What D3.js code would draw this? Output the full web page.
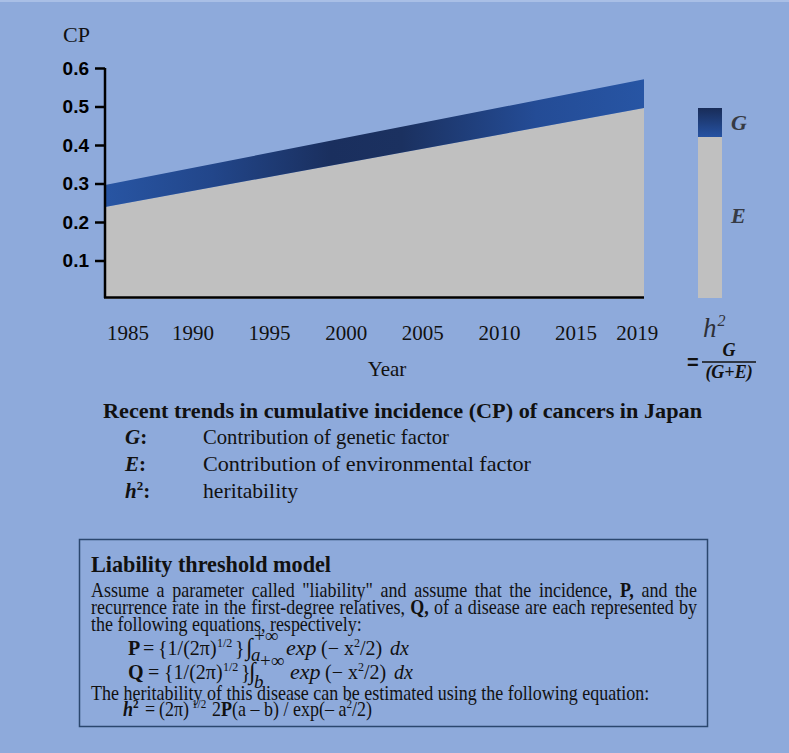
<!doctype html>
<html>
<head>
<meta charset="utf-8">
<title>Recent trends in cumulative incidence (CP) of cancers in Japan</title>
<style>
body { margin:0; background:#8eaadb; }
svg { display:block; }
text { fill:#111; font-family:"Liberation Serif","Times New Roman",serif; }
.ytick text { font-family:"Liberation Sans",Arial,sans-serif; font-weight:bold; font-size:19px; fill:#000; }
</style>
</head>
<body>
<svg width="789" height="753" id="chart"></svg>
<script src="https://d3js.org/d3.v7.min.js"></script>
<script>
// values
var years = [1985, 2019];
var cpTotal = [0.296, 0.571];   // G + E (top of blue band)
var cpEnv = [0.239, 0.496];     // E only (top of grey area)
var yTicks = [0.1, 0.2, 0.3, 0.4, 0.5, 0.6];
var yearLabels = [1985, 1990, 1995, 2000, 2005, 2010, 2015, 2019];

var rows = years.map(function(yr, i) { return {year: yr, total: cpTotal[i], env: cpEnv[i]}; });

var svg = d3.select("#chart");
svg.append("rect").attr("width", 789).attr("height", 753).attr("fill", "#8eaadb");
svg.append("rect").attr("width", 789).attr("height", 2).attr("fill", "#a9bfe6");

var x = d3.scaleLinear().domain([1985, 2019]).range([105, 644]);
var y = d3.scaleLinear().domain([0, 0.6]).range([299, 68]);
// year labels are laid out a bit apart from the data scale
var xLab = d3.scaleLinear().domain([1990, 2015]).range([193, 576]);

var defs = svg.append("defs");
var band = defs.append("linearGradient").attr("id", "band")
    .attr("gradientUnits", "userSpaceOnUse")
    .attr("x1", x(1985)).attr("x2", x(2019)).attr("y1", 0).attr("y2", 0);
[[0, "#2855a3"], [0.2, "#22468a"], [0.42, "#1a2f5e"], [0.55, "#1b3160"], [0.8, "#244c96"], [1, "#2755a4"]]
  .forEach(function(s) { band.append("stop").attr("offset", s[0]).attr("stop-color", s[1]); });
var lg = defs.append("linearGradient").attr("id", "legG").attr("x1", 0).attr("x2", 0).attr("y1", 0).attr("y2", 1);
lg.append("stop").attr("offset", 0).attr("stop-color", "#182c58");
lg.append("stop").attr("offset", 1).attr("stop-color", "#2652a2");

var envArea = d3.area().x(function(d) { return x(d.year); })
    .y0(y(0)).y1(function(d) { return y(d.env); });
var gArea = d3.area().x(function(d) { return x(d.year); })
    .y0(function(d) { return y(d.env); }).y1(function(d) { return y(d.total); });

svg.append("path").datum(rows).attr("d", envArea).attr("fill", "#c0c0c0");
svg.append("path").datum(rows).attr("d", gArea).attr("fill", "url(#band)");

// y axis
var yAxis = svg.append("g").attr("class", "ytick").attr("transform", "translate(" + x(1985) + ",0)")
    .call(d3.axisLeft(y).tickValues(yTicks).tickSize(10).tickSizeOuter(0).tickPadding(6).tickFormat(d3.format(".1f")));
yAxis.select(".domain").attr("stroke", "#000").attr("stroke-width", 2.5).attr("d", "M0," + y(0.6) + "V" + (y(0) - 1));
yAxis.selectAll(".tick line").attr("stroke", "#000").attr("stroke-width", 2.5);

// x baseline
svg.append("line").attr("x1", x(1985) - 1).attr("x2", x(2019)).attr("y1", y(0) - 1.5).attr("y2", y(0) - 1.5)
    .attr("stroke", "#000").attr("stroke-width", 2.5);

// year labels
svg.append("g").selectAll("text").data(yearLabels).join("text")
    .attr("x", function(d) { return d === 1985 ? x(d) + 2 : xLab(d); })
    .attr("y", 340)
    .attr("text-anchor", function(d) { return d === 1985 ? "start" : "middle"; })
    .style("font-size", "21px")
    .text(function(d) { return d; });

svg.append("text").attr("x", 387).attr("y", 376).attr("text-anchor", "middle").style("font-size", "21px").text("Year");
svg.append("text").attr("x", 63).attr("y", 42).style("font-size", "22px").text("CP");

// h2 legend bar
svg.append("rect").attr("x", 698).attr("y", 108).attr("width", 24).attr("height", 29).attr("fill", "url(#legG)");
svg.append("rect").attr("x", 698).attr("y", 137).attr("width", 24).attr("height", 161).attr("fill", "#c0c0c0");
svg.append("text").attr("x", 731).attr("y", 130).style("font-size", "22px").style("font-weight", "bold")
    .style("font-style", "italic").style("fill", "#363a44").text("G");
svg.append("text").attr("x", 731).attr("y", 223).style("font-size", "22px").style("font-weight", "bold")
    .style("font-style", "italic").style("fill", "#363a44").text("E");

var h2 = svg.append("text").attr("x", 703).attr("y", 337).style("font-style", "italic").style("fill", "#2e3038");
h2.append("tspan").style("font-size", "27px").text("h");
h2.append("tspan").style("font-size", "16px").attr("dy", -11).attr("dx", 1).text("2");
svg.append("text").attr("x", 687).attr("y", 369).style("font-family", "'Liberation Sans',Arial,sans-serif")
    .style("font-size", "20px").style("font-weight", "bold").text("=");
svg.append("line").attr("x1", 702).attr("x2", 756).attr("y1", 362).attr("y2", 362).attr("stroke", "#111").attr("stroke-width", 1.5);
svg.append("text").attr("x", 729).attr("y", 356).attr("text-anchor", "middle").style("font-size", "18px")
    .style("font-weight", "bold").style("font-style", "italic").text("G");
svg.append("text").attr("x", 729).attr("y", 378).attr("text-anchor", "middle").style("font-size", "18px")
    .style("font-weight", "bold").style("font-style", "italic").text("(G+E)");

// caption block
svg.append("text").attr("x", 103).attr("y", 418).style("font-size", "21px").style("font-weight", "bold")
    .attr("textLength", 599).attr("lengthAdjust", "spacingAndGlyphs")
    .text("Recent trends in cumulative incidence (CP) of cancers in Japan");
var keys = [
  {k: "G", d: "Contribution of genetic factor", w: 246, y: 444},
  {k: "E", d: "Contribution of environmental factor", w: 328, y: 471},
  {k: "h", d: "heritability", w: 95, y: 498}
];
keys.forEach(function(r) {
  var t = svg.append("text").attr("x", 125).attr("y", r.y).style("font-size", "21px").style("font-weight", "bold");
  t.append("tspan").style("font-style", "italic").text(r.k);
  if (r.k === "h") t.append("tspan").style("font-size", "13px").attr("dy", -8).text("2");
  t.append("tspan").attr("dy", r.k === "h" ? 8 : 0).text(":");
  svg.append("text").attr("x", 203).attr("y", r.y).style("font-size", "21px")
      .attr("textLength", r.w).attr("lengthAdjust", "spacingAndGlyphs").text(r.d);
});

// liability threshold model box
svg.append("rect").attr("x", 79.5).attr("y", 539.5).attr("width", 628).attr("height", 187)
    .attr("fill", "none").attr("stroke", "#2b476e").attr("stroke-width", 1.5);
svg.append("text").attr("x", 91).attr("y", 572).style("font-size", "24px").style("font-weight", "bold")
    .attr("textLength", 240).attr("lengthAdjust", "spacingAndGlyphs").text("Liability threshold model");

var FS = 21;
var probe = svg.append("text").style("font-size", FS + "px").text("the following equations, respectively:");
var sx = 271 / probe.node().getComputedTextLength();
probe.remove();
// prose is horizontally condensed like the original; P and Q equations are not
var body = svg.append("g").attr("transform", "translate(91,0) scale(" + sx + ",1)");
var eq = svg.append("g");
function u(X) { return (X - 91) / sx; }

// pieces laid out left to right; "at" pins a piece to a page x position
function flow(g, k, yy, pieces, fs) {
  var cx = 0;
  pieces.forEach(function(p) {
    if (p.at !== undefined) cx = k ? u(p.at) : p.at;
    var t = g.append("text").attr("x", cx).attr("y", yy + (p.dy || 0))
        .style("font-size", (p.size || fs) + "px")
        .style("font-weight", p.b ? "bold" : "normal")
        .style("font-style", p.i ? "italic" : "normal")
        .text(p.t);
    cx += t.node().getComputedTextLength();
  });
}

function justify(words, yy, X0, X1) {
  var nodes = words.map(function(w) {
    return body.append("text").attr("y", yy).style("font-size", FS + "px")
        .style("font-weight", w.b ? "bold" : "normal").text(w.t);
  });
  var widths = nodes.map(function(n) { return n.node().getComputedTextLength(); });
  var gap = (u(X1) - u(X0) - d3.sum(widths)) / (nodes.length - 1);
  var cx = u(X0);
  nodes.forEach(function(n, i) { n.attr("x", cx); cx += widths[i] + gap; });
}
function words(str, boldWord) {
  return str.split(" ").map(function(w) { return {t: w, b: w === boldWord}; });
}

justify(words('Assume a parameter called "liability" and assume that the incidence, P, and the', "P,"), 597, 91, 697);
justify(words("recurrence rate in the first-degree relatives, Q, of a disease are each represented by", "Q,"), 614, 91, 697);
flow(body, 1, 631, [{t: "the following equations, respectively:", at: 91}], FS);

flow(eq, 0, 655, [
  {t: "P", b: 1, at: 128}, {t: "=", at: 143}, {t: "{1/(2π)", at: 158},
  {t: "1/2", size: 12, dy: -8, at: 217}, {t: "}", at: 235},
  {t: "∫", size: 24, at: 246}, {t: "a", size: 19, i: 1, dy: 6, at: 251},
  {t: "+∞", size: 19, dy: -13, at: 254},
  {t: "exp", size: 22, i: 1, at: 286},
  {t: "(− x", at: 321}, {t: "2", size: 12, dy: -8}, {t: "/2)"},
  {t: "dx", i: 1, at: 390}
], 20);
flow(eq, 0, 679, [
  {t: "Q", b: 1, at: 128}, {t: "=", at: 148}, {t: "{1/(2π)", at: 164},
  {t: "1/2", size: 12, dy: -8, at: 223}, {t: "}", at: 241},
  {t: "∫", size: 24, at: 249}, {t: "b", size: 19, i: 1, dy: 9, at: 254},
  {t: "+∞", size: 19, dy: -12, at: 260},
  {t: "exp", size: 22, i: 1, at: 290},
  {t: "(− x", at: 325}, {t: "2", size: 12, dy: -8}, {t: "/2)"},
  {t: "dx", i: 1, at: 394}
], 20);

flow(body, 1, 700, [{t: "The heritability of this disease can be estimated using the following equation:", at: 91}], FS);
flow(body, 1, 716, [
  {t: "h", b: 1, i: 1, at: 123}, {t: "2", size: 13, b: 1, dy: -8}, {t: "=", at: 145}, {t: "(2π)", at: 159},
  {t: "1/2", size: 13, dy: -8, at: 192}, {t: "2", at: 212}, {t: "P", b: 1}, {t: "(a – b) / exp(– a"},
  {t: "2", size: 13, dy: -8}, {t: "/2)"}
], FS);
</script>
</body>
</html>
